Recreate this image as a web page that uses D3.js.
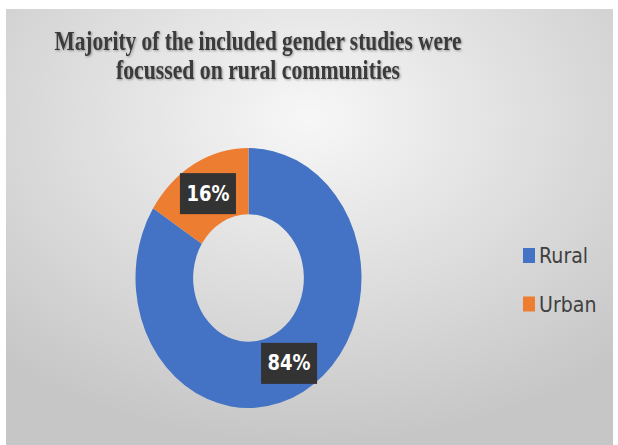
<!DOCTYPE html>
<html lang="en">
<head>
<meta charset="UTF-8">
<title>Donut</title>
<script src="https://cdn.jsdelivr.net/npm/d3@7"></script>
<style>
  body { margin: 0; background: #fff; }
</style>
</head>
<body>
<script>
    var categories = ["Rural", "Urban"];      // 类别
    var values = [84, 16];                    // 百分比
    var colors = ["#4472c4", "#ed7d31"];
    var titleLines = ["Majority of the included gender studies were", "focussed on rural communities"];

    var width = 618, height = 445;
    var svg = d3.select("body").append("svg")
            .attr("width", width).attr("height", height);

    /* background */
    var defs = svg.append("defs");
    var grad = defs.append("radialGradient").attr("id", "bg")
            .attr("cx", "50%").attr("cy", "25%").attr("r", "75%");
    grad.append("stop").attr("offset", "0%").attr("stop-color", "#f7f7f7");
    grad.append("stop").attr("offset", "100%").attr("stop-color", "#c6c6c6");
    svg.append("rect").attr("x", 6).attr("y", 9)
            .attr("width", 607).attr("height", 436)
            .attr("fill", "url(#bg)");

    var shadow = defs.append("filter").attr("id", "ts")
            .attr("x", "-5%").attr("y", "-20%").attr("width", "110%").attr("height", "140%");
    shadow.append("feDropShadow").attr("dx", 1).attr("dy", 1)
            .attr("stdDeviation", 1).attr("flood-color", "#000").attr("flood-opacity", 0.35);

    /* title */
    var titleW = [407, 284];
    svg.append("g").selectAll("text")
            .data(titleLines)
            .enter().append("text")
            .attr("x", 258)
            .attr("y", function(d, i){ return 50 + i * 29; })
            .attr("text-anchor", "middle")
            .attr("font-family", "Liberation Serif, Times New Roman, serif")
            .attr("font-weight", "bold")
            .attr("font-size", "27px")
            .attr("fill", "#3a3a3a")
            .attr("filter", "url(#ts)")
            .attr("textLength", function(d, i){ return titleW[i]; })
            .attr("lengthAdjust", "spacingAndGlyphs")
            .text(function(d){ return d; });

    /* donut (stretched vertically like the source) */
    var cx = 248.5, cy = 278, rx = 113, ry = 130;
    var sy = ry / rx;
    var pie = d3.pie().sort(null).value(function(d){ return d; });
    var arcs = pie(values);
    var arc = d3.arc().innerRadius(rx * 0.49).outerRadius(rx);

    var g = svg.append("g")
            .attr("transform", "translate(" + cx + "," + cy + ") scale(1," + sy + ")");
    g.selectAll("path")
            .data(arcs)
            .enter().append("path")
            .attr("d", arc)
            .attr("fill", function(d, i){ return colors[i]; });

    /* labels */
    var labels = svg.append("g").selectAll("g")
            .data(arcs)
            .enter().append("g")
            .attr("transform", function(d){
                var c = arc.centroid(d);
                return "translate(" + (cx + c[0]) + "," + (cy + c[1] * sy) + ")";
            });
    labels.append("rect")
            .attr("x", -28).attr("y", -20)
            .attr("width", 56).attr("height", 41)
            .attr("fill", "#333333");
    labels.append("text")
            .attr("text-anchor", "middle")
            .attr("transform", "scale(1,1.15)")
            .attr("dy", "0.36em")
            .attr("font-family", "DejaVu Sans, sans-serif")
            .attr("font-weight", "bold")
            .attr("font-size", "18px")
            .attr("fill", "#ffffff")
            .text(function(d){ return d.data + "%"; });

    /* legend */
    var legend = svg.append("g").selectAll("g")
            .data(categories)
            .enter().append("g")
            .attr("transform", function(d, i){ return "translate(523," + (255.5 + i * 48.5) + ")"; });
    legend.append("rect")
            .attr("x", 0).attr("y", -7.5)
            .attr("width", 12).attr("height", 15)
            .attr("fill", function(d, i){ return colors[i]; });
    legend.append("text")
            .attr("transform", "scale(1,1.15)")
            .attr("x", 16).attr("dy", "0.36em")
            .attr("font-family", "DejaVu Sans, sans-serif")
            .attr("font-size", "19px")
            .attr("fill", "#404040")
            .text(function(d){ return d; });
</script>
</body>
</html>
